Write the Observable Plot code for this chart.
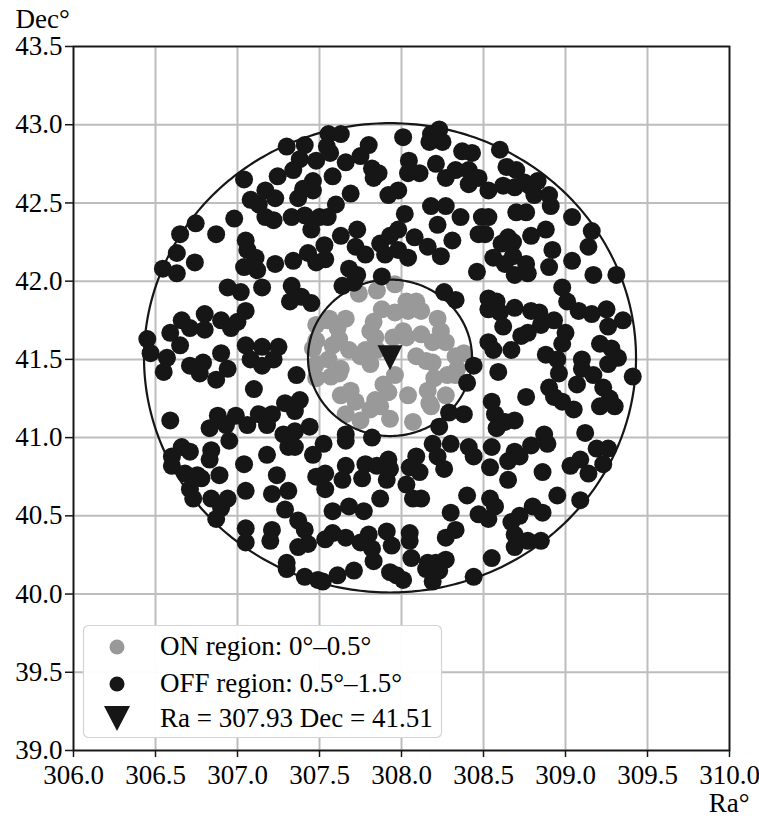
<!DOCTYPE html>
<html>
<head>
<meta charset="utf-8">
<script src="https://cdn.jsdelivr.net/npm/d3@7"></script>
<script src="https://cdn.jsdelivr.net/npm/@observablehq/plot@0.6"></script>
<style>
  html, body { margin: 0; padding: 0; background: white; }
  #wrap { position: relative; width: 759px; height: 816px; }
  #legend { position: absolute; left: 0; top: 0; }
</style>
</head>
<body>
<div id="wrap"></div>
<script>
// ---- data (Ra°, Dec°) ----
const sourceRa = 307.93;
const sourceDec = 41.51;
const innerRadius = 0.5;
const outerRadius = 1.5;

const xTicks = [306.0, 306.5, 307.0, 307.5, 308.0, 308.5, 309.0, 309.5, 310.0];
const yTicks = [39.0, 39.5, 40.0, 40.5, 41.0, 41.5, 42.0, 42.5, 43.0, 43.5];

const legendLabels = ["ON region: 0°–0.5°", "OFF region: 0.5°–1.5°", "Ra = 307.93 Dec = 41.51"];

const onPoints = [
  [307.74,41.92],[307.85,41.94],[307.96,41.98],[308.03,41.87],[308.09,41.87],[308.04,41.81],[307.88,41.82],
  [307.56,41.76],[307.61,41.70],[307.83,41.74],[308.22,41.76],[307.62,41.63],[307.58,41.59],[307.68,41.56],
  [307.84,41.64],[307.95,41.64],[308.03,41.64],[308.12,41.66],[308.19,41.61],[308.27,41.61],[307.75,41.52],
  [307.81,41.47],[307.85,41.56],[308.09,41.52],[308.19,41.48],[308.38,41.54],[307.555,41.50],[307.63,41.44],
  [307.57,41.39],[307.89,41.34],[308.20,41.38],[308.28,41.40],[308.34,41.44],[307.63,41.27],[307.72,41.23],
  [307.84,41.24],[307.81,41.18],[307.92,41.29],[308.04,41.27],[308.16,41.30],[308.17,41.22],[307.66,41.15],
  [307.93,41.12],[308.07,41.10],[307.48,41.72],[307.48,41.62],[307.46,41.57],[307.48,41.47],[307.48,41.38],
  [307.66,41.76],[308.01,41.68],[308.12,41.81],[307.78,41.56],[307.96,41.40],[308.15,41.49],[308.33,41.40],
  [307.69,41.30],[307.87,41.20],[308.18,41.20],[307.81,41.68],[308.24,41.68],[308.33,41.52],[307.62,41.41],
  [307.75,41.11],[308.27,41.27],[307.96,41.80],[307.55,41.75]
];

const offPoints = [
  // upper left
  [307.30,42.86],[307.41,42.87],[307.38,42.78],[307.48,42.77],[307.34,42.71],[307.245,42.67],[307.04,42.65],
  [307.46,42.64],[307.17,42.58],[307.23,42.53],[307.08,42.52],[307.13,42.49],[307.40,42.59],[307.46,42.58],
  [307.37,42.53],[306.98,42.40],[306.745,42.37],[307.17,42.41],[307.22,42.39],[307.33,42.41],[307.41,42.42],
  [307.45,42.33],[307.50,42.41],[306.87,42.30],[306.65,42.30],[307.05,42.26],[306.63,42.18],[306.74,42.12],
  [307.06,42.20],[307.11,42.15],[307.04,42.09],[307.12,42.07],[307.23,42.11],[307.34,42.13],[307.43,42.18],
  [307.48,42.12],[306.545,42.08],[306.63,42.05],
  // upper middle
  [307.555,42.94],[307.63,42.94],[307.545,42.86],[307.565,42.82],[307.80,42.87],[307.75,42.80],[307.66,42.76],
  [307.58,42.67],[307.82,42.72],[307.86,42.69],[307.83,42.66],[308.01,42.92],[308.18,42.94],[308.23,42.97],
  [308.25,42.89],[308.17,42.89],[308.045,42.77],[308.11,42.69],[308.04,42.69],[308.21,42.75],[308.27,42.66],
  [308.33,42.71],[308.37,42.83],[308.43,42.82],[308.41,42.71],[308.41,42.62],[308.47,42.66],[307.69,42.56],
  [307.92,42.55],[307.98,42.58],[307.60,42.49],[307.55,42.41],[308.02,42.43],[308.18,42.48],[308.27,42.48],
  [308.22,42.36],[308.36,42.41],[308.49,42.41],[307.73,42.33],[307.63,42.29],[307.53,42.23],[307.72,42.22],
  [307.78,42.17],[307.87,42.24],[307.93,42.29],[307.98,42.33],[307.90,42.17],[307.98,42.20],[308.04,42.15],
  [308.08,42.28],[308.16,42.22],[308.24,42.16],[308.31,42.26],[308.47,42.30],[307.68,42.08],[307.73,42.04],
  [307.88,42.03],[308.46,42.06],[307.535,42.14],
  // upper right
  [308.60,42.84],[308.64,42.73],[308.70,42.71],[308.62,42.61],[308.53,42.58],[308.69,42.60],[308.75,42.63],
  [308.78,42.61],[308.83,42.64],[308.81,42.55],[308.90,42.55],[308.91,42.48],[308.70,42.44],[308.76,42.44],
  [308.53,42.41],[309.04,42.41],[308.51,42.30],[308.65,42.28],[308.61,42.24],[308.68,42.25],[308.79,42.29],
  [308.88,42.33],[309.16,42.32],[309.14,42.22],[308.56,42.15],[308.68,42.16],[308.63,42.11],[308.76,42.11],
  [308.77,42.05],[308.69,42.04],[308.92,42.20],[308.90,42.09],[309.04,42.13],[309.17,42.04],[309.31,42.04],
  // middle left
  [306.94,41.96],[307.02,41.93],[307.15,41.96],[307.33,41.97],[307.39,41.90],[307.32,41.87],[307.45,41.86],
  [307.05,41.81],[306.90,41.75],[306.66,41.75],[306.80,41.79],[306.71,41.70],[306.80,41.69],[306.59,41.67],
  [306.65,41.59],[306.96,41.70],[307.00,41.74],[306.45,41.63],[306.47,41.54],[306.57,41.51],[306.55,41.42],
  [306.71,41.46],[306.77,41.41],[306.79,41.48],[306.90,41.54],[306.94,41.44],[306.87,41.37],[307.05,41.59],
  [307.15,41.58],[307.25,41.58],[307.08,41.50],[307.15,41.46],[307.22,41.50],[307.10,41.31],[307.36,41.40],
  [307.29,41.22],[307.38,41.24],[307.35,41.17],[306.59,41.11],[306.88,41.14],[306.83,41.06],[306.93,41.08],
  [306.99,41.14],[307.06,41.08],[307.13,41.15],[307.21,41.15],[307.18,41.08],[307.28,41.02],[307.35,41.04],
  [307.44,41.07],
  // middle ring
  [307.64,41.97],[307.71,41.99],[308.26,41.93],[308.33,41.88],[308.44,41.46],[308.40,41.35],[308.29,41.16],
  [308.38,41.15],[308.23,41.07],[307.82,41.00],[307.66,41.02],
  // middle right
  [308.98,41.96],[309.01,41.87],[308.53,41.89],[308.58,41.87],[308.60,41.80],[308.53,41.82],[308.62,41.71],
  [308.69,41.83],[308.79,41.81],[308.84,41.80],[308.85,41.72],[308.93,41.75],[309.00,41.67],[308.98,41.60],
  [309.08,41.81],[309.16,41.79],[309.25,41.82],[309.26,41.71],[309.35,41.75],[309.21,41.60],[309.28,41.57],
  [309.32,41.51],[309.26,41.47],[309.10,41.50],[309.10,41.44],[309.17,41.40],[309.07,41.34],[309.41,41.39],
  [308.53,41.61],[308.56,41.56],[308.67,41.56],[308.73,41.65],[308.77,41.67],[308.88,41.53],[308.95,41.50],
  [308.96,41.41],[308.59,41.42],[308.90,41.32],[308.93,41.26],[308.98,41.23],[309.05,41.18],[308.76,41.26],
  [309.23,41.32],[309.27,41.25],[309.21,41.20],[309.30,41.20],[308.55,41.23],[308.57,41.15],[308.63,41.10],
  [308.69,41.11],[308.58,41.06],[308.87,41.02],[309.12,41.03],
  // lower left
  [306.66,40.94],[306.71,40.91],[306.60,40.88],[306.60,40.82],[306.84,40.92],[306.83,40.86],[306.95,40.98],
  [307.04,40.83],[307.18,40.89],[307.31,40.94],[307.35,40.94],[307.46,40.89],[306.68,40.77],[306.755,40.76],
  [306.78,40.74],[306.89,40.76],[306.71,40.67],[306.73,40.61],[306.84,40.61],[306.94,40.61],[306.90,40.55],
  [306.87,40.48],[307.05,40.66],[307.24,40.76],[307.21,40.64],[307.31,40.66],[307.48,40.75],[307.29,40.54],
  [307.37,40.47],[307.41,40.41],[307.43,40.32],[307.37,40.30],[307.05,40.42],[307.05,40.33],[307.21,40.41],
  [307.20,40.34],[307.30,40.20],[307.30,40.16],[307.41,40.11],[307.49,40.09],
  // lower middle
  [307.66,40.98],[307.525,40.96],[307.535,40.77],[307.535,40.67],[307.66,40.82],[307.64,40.73],[307.78,40.83],
  [307.85,40.82],[307.92,40.86],[307.93,40.80],[307.76,40.74],[307.91,40.73],[308.03,40.70],[308.05,40.81],
  [308.09,40.88],[308.11,40.78],[308.19,40.96],[308.30,40.96],[308.22,40.88],[308.26,40.80],[308.41,40.94],
  [308.44,40.88],[308.40,40.63],[308.07,40.61],[308.12,40.61],[307.87,40.61],[307.58,40.53],[307.68,40.56],
  [307.77,40.53],[308.30,40.52],[308.47,40.51],[307.535,40.35],[307.58,40.39],[307.66,40.36],[307.80,40.38],
  [307.75,40.33],[307.82,40.29],[307.83,40.21],[307.91,40.40],[307.94,40.31],[308.05,40.39],[308.05,40.34],
  [308.06,40.23],[308.16,40.20],[308.21,40.20],[308.27,40.22],[308.15,40.16],[308.23,40.15],[308.19,40.08],
  [308.27,40.36],[308.33,40.41],[307.93,40.14],[308.01,40.09],[307.97,40.12],[307.61,40.12],[307.71,40.15],
  [307.52,40.08],[308.44,40.11],
  // lower right
  [308.55,40.94],[308.54,40.81],[308.65,40.85],[308.69,40.91],[308.72,40.88],[308.65,40.73],[308.79,40.95],
  [308.89,40.96],[308.86,40.78],[309.03,40.82],[309.09,40.86],[309.14,40.77],[309.19,40.93],[309.26,40.93],
  [309.23,40.83],[308.54,40.61],[308.57,40.56],[308.53,40.48],[308.95,40.63],[309.09,40.60],[308.80,40.56],
  [308.86,40.52],[308.72,40.50],[308.67,40.46],[308.69,40.38],[308.69,40.30],[308.77,40.34],[308.85,40.34],
  [308.55,40.23]
];

// ---- geometry derived from the region radii ----
function ring(radius) {
  return d3.range(0, 361, 1).map(a => ({
    ra: sourceRa + radius * Math.cos(a * Math.PI / 180),
    dec: sourceDec + radius * Math.sin(a * Math.PI / 180)
  }));
}

const triangleDown = {
  draw(context, size) {
    const r = Math.sqrt(size / Math.PI);
    context.moveTo(0, r);
    context.lineTo(-r, -r);
    context.lineTo(r, -r);
    context.closePath();
  }
};

const W = 759, H = 816;
const mL = 73, mR = 30, mT = 46, mB = 66;
const GREY = "#999999", BLACK = "#161616";
const FS = 27;

const chart = Plot.plot({
  width: W, height: H,
  marginLeft: mL, marginRight: mR, marginTop: mT, marginBottom: mB,
  x: {domain: [306, 310]},
  y: {domain: [39, 43.5]},
  style: {fontFamily: "'Liberation Serif', 'Times New Roman', serif", fontSize: FS + "px", color: "black", background: "white", overflow: "visible"},
  marks: [
    Plot.gridX(xTicks, {stroke: "#bdbdbd", strokeOpacity: 1, strokeWidth: 2}),
    Plot.gridY(yTicks, {stroke: "#bdbdbd", strokeOpacity: 1, strokeWidth: 2}),
    Plot.dot(onPoints, {x: d => d[0], y: d => d[1], r: 9, fill: GREY}),
    Plot.dot(offPoints, {x: d => d[0], y: d => d[1], r: 9, fill: BLACK}),
    Plot.line(ring(outerRadius), {x: "ra", y: "dec", stroke: BLACK, strokeWidth: 2.2}),
    Plot.line(ring(innerRadius), {x: "ra", y: "dec", stroke: BLACK, strokeWidth: 2.2}),
    Plot.dot([{ra: sourceRa, dec: sourceDec}], {x: "ra", y: "dec", r: 12.5, symbol: triangleDown, fill: BLACK}),
    Plot.frame({stroke: BLACK, strokeWidth: 1.8}),
    Plot.axisX({ticks: xTicks, tickFormat: d => d.toFixed(1), tickSize: 7, tickPadding: 7, label: null, fontSize: FS, stroke: BLACK, strokeWidth: 1.5}),
    Plot.axisY({ticks: yTicks, tickFormat: d => d.toFixed(1), tickSize: 8, tickPadding: 3, label: null, fontSize: FS, stroke: BLACK, strokeWidth: 1.5}),
    Plot.text(["Dec°"], {frameAnchor: "top-left", text: d => d, textAnchor: "start", lineAnchor: "bottom", dx: -58, dy: -19, fontSize: FS}),
    Plot.text(["Ra°"], {frameAnchor: "bottom-right", text: d => d, textAnchor: "end", lineAnchor: "bottom", dx: 20, dy: 61, fontSize: FS})
  ]
});

const wrap = document.getElementById("wrap");
wrap.appendChild(chart);

// ---- legend ----
const leg = d3.select(wrap).append("svg")
  .attr("id", "legend")
  .attr("width", W).attr("height", H)
  .style("font-family", "'Liberation Serif', 'Times New Roman', serif")
  .style("font-size", FS + "px");
leg.append("rect")
  .attr("x", 83.5).attr("y", 625.5).attr("width", 358).attr("height", 112)
  .attr("rx", 5).attr("fill", "white").attr("fill-opacity", 0.95)
  .attr("stroke", "#d4d4d4").attr("stroke-width", 1.2);
const rows = [655, 692, 727];
leg.append("circle").attr("cx", 117).attr("cy", 647).attr("r", 7.5).attr("fill", GREY);
leg.append("circle").attr("cx", 117).attr("cy", 684).attr("r", 7.5).attr("fill", BLACK);
leg.append("path").attr("d", "M104,706 L130,706 L117,731 Z").attr("fill", BLACK);
legendLabels.forEach((t, i) => {
  leg.append("text").attr("x", 160).attr("y", rows[i]).attr("fill", "black").text(t);
});
</script>
</body>
</html>
